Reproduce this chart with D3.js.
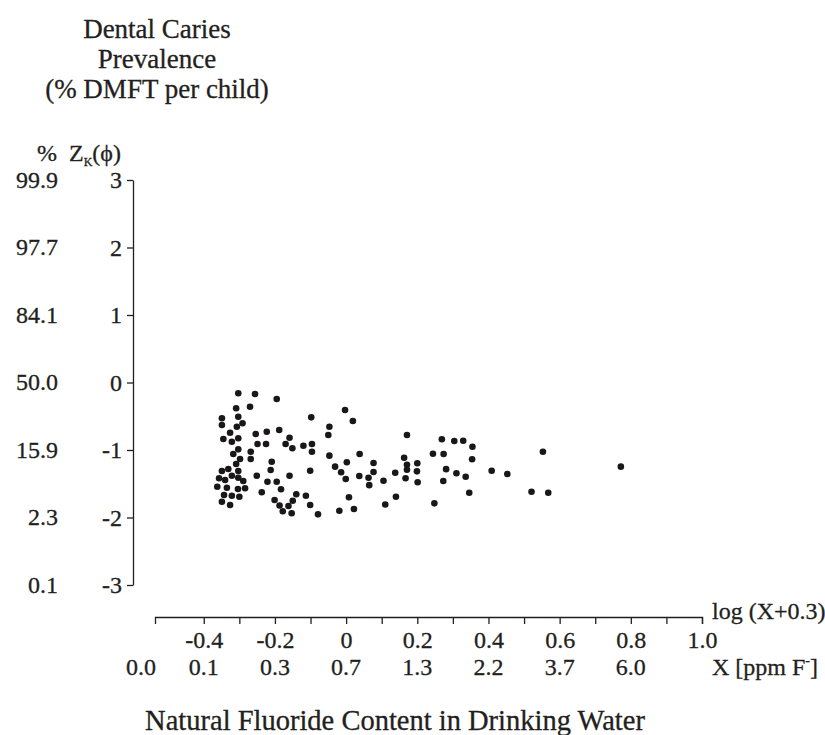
<!DOCTYPE html>
<html lang="en">
<head>
<meta charset="UTF-8">
<title>Dental caries vs fluoride</title>
<script src="https://cdn.jsdelivr.net/npm/d3@7"></script>
<style>
  body { margin: 0; background: #fff; }
  text { font-family: "Liberation Serif", "DejaVu Serif", serif; fill: #231f20; stroke: #231f20; stroke-width: 0.3px; }
</style>
</head>
<body>
<svg id="chart" width="825" height="735"></svg>
<script>
// title and axis texts
var titleLines = ["Dental Caries", "Prevalence", "(% DMFT per child)"];
var xTitle = "Natural Fluoride Content in Drinking Water";

// y axis: probit Z values and matching percentages
var yTicks = [3, 2, 1, 0, -1, -2, -3];
var yPercent = ["99.9", "97.7", "84.1", "50.0", "15.9", "2.3", "0.1"];

// x axis: log(X+0.3), ticks every 0.1, labels every 0.2
var xTicks = [-0.4, -0.3, -0.2, -0.1, 0, 0.1, 0.2, 0.3, 0.4, 0.5, 0.6, 0.7, 0.8, 0.9, 1.0];
var xTickLabels = ["-0.4", "", "-0.2", "", "0", "", "0.2", "", "0.4", "", "0.6", "", "0.8", "", "1.0"];
// ppm F- labels and where they sit on the log scale
var ppmLabels = ["0.0", "0.1", "0.3", "0.7", "1.3", "2.2", "3.7", "6.0"];
var ppmAt = [-0.576, -0.4, -0.2, 0, 0.2, 0.4, 0.6, 0.8];

// sites: [log(X+0.3), Z_K]
var sites = [
  [-0.303, -0.160], [-0.256, -0.170], [-0.195, -0.244], [-0.309, -0.382], [-0.270, -0.359],
  [-0.303, -0.507], [-0.349, -0.530], [-0.349, -0.630], [-0.291, -0.604], [-0.307, -0.655],
  [-0.326, -0.744], [-0.254, -0.763], [-0.223, -0.729], [-0.188, -0.704], [-0.345, -0.837],
  [-0.321, -0.877], [-0.303, -0.827], [-0.249, -0.911], [-0.225, -0.911], [-0.170, -0.911],
  [-0.303, -0.990], [-0.317, -1.059], [-0.268, -1.025], [-0.298, -1.133], [-0.268, -1.133],
  [-0.309, -1.207], [-0.209, -1.173], [-0.212, -1.296], [-0.349, -1.311], [-0.331, -1.281],
  [-0.303, -1.311], [-0.251, -1.381], [-0.357, -1.419], [-0.340, -1.444], [-0.321, -1.381],
  [-0.303, -1.410], [-0.289, -1.459], [-0.221, -1.470], [-0.195, -1.470], [-0.362, -1.544],
  [-0.335, -1.559], [-0.304, -1.578], [-0.284, -1.567], [-0.183, -1.582], [-0.343, -1.667],
  [-0.321, -1.677], [-0.300, -1.692], [-0.237, -1.627], [-0.349, -1.766], [-0.326, -1.815],
  [-0.201, -1.741], [-0.187, -1.822], [-0.178, -1.908],
  [-0.159, -0.818], [-0.151, -0.975], [-0.120, -0.936], [-0.096, -0.911], [-0.096, -1.025],
  [-0.098, -0.516], [-0.047, -0.655], [-0.050, -0.778], [-0.003, -0.407], [0.019, -0.570],
  [-0.047, -1.084], [0.002, -1.182], [-0.031, -1.247], [-0.014, -1.330], [-0.001, -1.430],
  [-0.101, -1.307], [-0.159, -1.381], [-0.140, -1.656], [-0.113, -1.677], [-0.150, -1.751],
  [-0.162, -1.830], [-0.153, -1.938], [-0.101, -1.815], [-0.079, -1.953], [-0.019, -1.899],
  [0.008, -1.701], [0.022, -1.874],
  [0.038, -1.059], [0.037, -1.385], [0.063, -1.410], [0.077, -1.193], [0.077, -1.326],
  [0.065, -1.521], [0.105, -1.455], [0.138, -1.336], [0.110, -1.807], [0.140, -1.692],
  [0.163, -1.114], [0.171, -1.218], [0.171, -1.292], [0.167, -1.419], [0.171, -0.778],
  [0.200, -1.197], [0.199, -1.316], [0.201, -1.477], [0.244, -1.055], [0.248, -1.790],
  [0.269, -0.841], [0.304, -0.867], [0.329, -0.862], [0.355, -0.951], [0.274, -1.059],
  [0.354, -1.136], [0.281, -1.284], [0.310, -1.345], [0.336, -1.396], [0.273, -1.459],
  [0.346, -1.633], [0.409, -1.308], [0.453, -1.356], [0.521, -1.618], [0.553, -1.025],
  [0.568, -1.633], [0.772, -1.247]
];

var svg = d3.select("#chart");
svg.append("rect").attr("width", 825).attr("height", 735).attr("fill", "#fff");

var x = d3.scaleLinear().domain([-0.537, 1.0]).range([155, 702]);
var y = d3.scaleLinear().domain([-3, 3]).range([585, 180]);
var yAxisX = 133, xAxisY = 617;

// title
svg.append("g").selectAll("text")
  .data(titleLines)
  .enter().append("text")
  .attr("x", 157)
  .attr("y", function (d, i) { return 38 + i * 30; })
  .attr("text-anchor", "middle")
  .attr("font-size", 27)
  .text(function (d) { return d; });

// "%  Z_K(phi)" header
var head = svg.append("text").attr("x", 37).attr("y", 161).attr("font-size", 24);
head.append("tspan").text("%");
head.append("tspan").attr("dx", 12).text("Z");
head.append("tspan").attr("dy", 5).attr("font-size", 12).text("K");
head.append("tspan").attr("dy", -5).text("(ϕ)");

// y axis
var yAxis = svg.append("g")
  .attr("transform", "translate(" + yAxisX + ",0)")
  .call(d3.axisLeft(y).tickValues(yTicks).tickSize(6).tickSizeOuter(0).tickPadding(5)
    .tickFormat(function (d) { return String(d); }));
yAxis.attr("font-family", null).attr("font-size", null);
yAxis.selectAll("path, line").attr("stroke", "#231f20").attr("stroke-width", 1.3);
yAxis.selectAll("text").attr("font-size", 24).attr("fill", "#231f20").attr("dy", "0.32em");

// percentage column
svg.append("g").selectAll("text")
  .data(yTicks)
  .enter().append("text")
  .attr("x", 58)
  .attr("y", function (d) { return y(d); })
  .attr("dy", "0.32em")
  .attr("text-anchor", "end")
  .attr("font-size", 24)
  .text(function (d, i) { return yPercent[i]; });

// x axis
var xAxis = svg.append("g")
  .attr("transform", "translate(0," + xAxisY + ")")
  .call(d3.axisBottom(x).tickValues(xTicks).tickSize(7).tickSizeOuter(7)
    .tickFormat(function (d, i) { return xTickLabels[i]; }));
xAxis.attr("font-family", null).attr("font-size", null);
xAxis.selectAll("path, line").attr("stroke", "#231f20").attr("stroke-width", 1.3);
xAxis.selectAll("text").attr("font-size", 24).attr("fill", "#231f20").attr("y", 31).attr("dy", 0);

// ppm row
svg.append("g").selectAll("text")
  .data(ppmLabels)
  .enter().append("text")
  .attr("x", function (d, i) { return x(ppmAt[i]); })
  .attr("y", 675)
  .attr("text-anchor", "middle")
  .attr("font-size", 24)
  .text(function (d) { return d; });

svg.append("text").attr("x", 712).attr("y", 619).attr("font-size", 24).text("log (X+0.3)");
var xl = svg.append("text").attr("x", 712).attr("y", 675).attr("font-size", 24);
xl.append("tspan").text("X [ppm F");
xl.append("tspan").attr("dy", -10).attr("font-size", 14).text("-");
xl.append("tspan").attr("dy", 10).text("]");

svg.append("text").attr("x", 395).attr("y", 730)
  .attr("text-anchor", "middle").attr("font-size", 28.5).text(xTitle);

// points
svg.append("g").selectAll("circle")
  .data(sites)
  .enter().append("circle")
  .attr("cx", function (d) { return x(d[0]); })
  .attr("cy", function (d) { return y(d[1]); })
  .attr("r", 3.3)
  .attr("fill", "#1a1718");
</script>
</body>
</html>
